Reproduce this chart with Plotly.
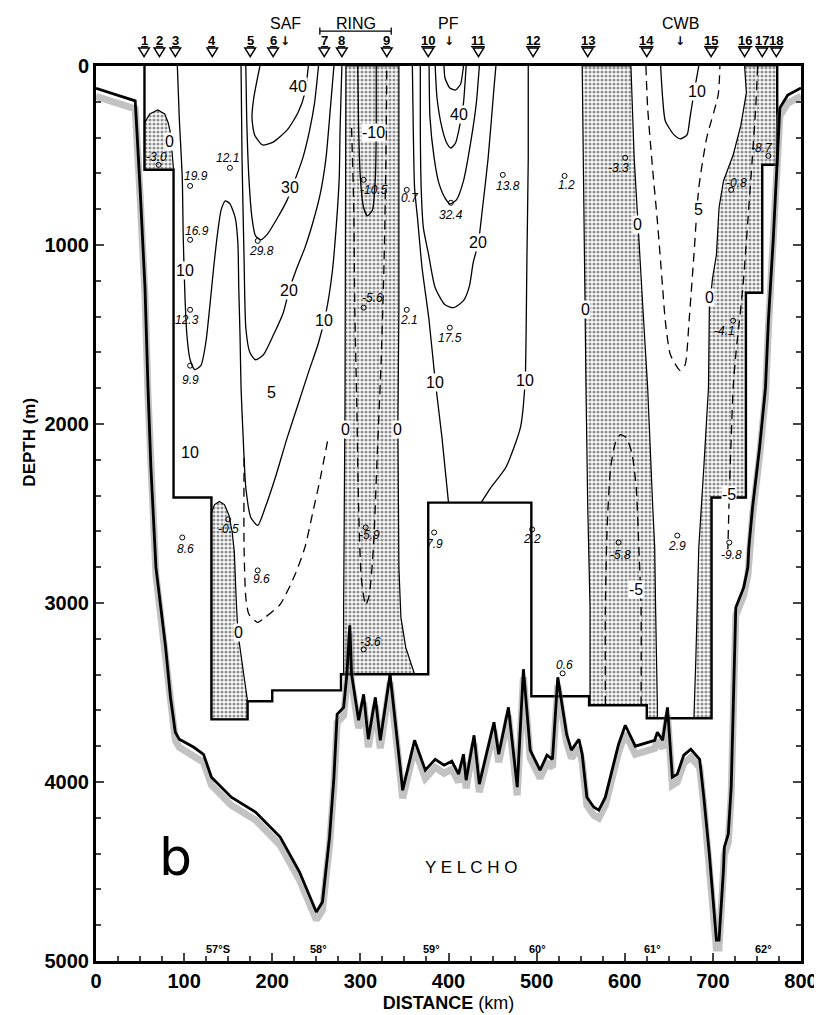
import plotly.graph_objects as go

# ---------------- data (km, m) ----------------
st_km = [54.5, 72, 90, 132, 175, 201, 259, 279, 330, 377, 434, 496, 558, 625, 698, 736, 756, 772]
st_names = [str(i) for i in range(1, 19)]
front_names = ["SAF", "PF", "CWB"]
front_km = [215, 400, 663]
ring_km = [254, 335]
lat_km = [139, 252, 381, 501, 632, 758]
lat_labels = ["57°S", "58°", "59°", "60°", "61°", "62°"]

topo_km = [0, 44.5, 50, 55.6, 59, 62.3, 68, 73.4, 79, 84.5, 90, 94.5, 111, 122, 131, 153.5, 181, 209, 231,
           250, 257, 265, 270, 273.6, 278, 281, 284.7, 288, 290, 298, 303.7, 309, 317, 322.6, 333.7, 348,
           361.5, 373.7, 384.9, 394.9, 403.8, 411.5, 417, 420, 429, 435, 451.6, 457, 468, 478, 485, 492.7,
           503.9, 511.7, 518, 524, 534, 539.5, 548, 551.7, 557, 565, 570.6, 578, 593, 600.6, 612, 634, 637,
           643, 648.5, 654, 659.6, 667, 675, 685, 689.7, 696, 704, 707, 712, 713, 717.5, 720.8, 726, 735,
           739.7, 740.8, 745, 753, 759.7, 763, 768.6, 774, 776, 785, 800]
topo_m = [125, 195, 681, 1239, 1797, 2243, 2801, 3025, 3248, 3527, 3722, 3761, 3806, 3845, 3973, 4085, 4168,
          4308, 4503, 4726, 4670, 4308, 3973, 3622, 3599, 3583, 3398, 3125, 3398, 3655, 3510, 3761, 3527,
          3767, 3398, 4046, 3767, 3934, 3873, 3906, 3884, 3956, 3845, 3990, 3739, 4012, 3666, 3845, 3583,
          4029, 3370, 3822, 3934, 3850, 3873, 3415, 3733, 3822, 3761, 3845, 4085, 4141, 4157, 4085, 3789,
          3683, 3800, 3767, 3722, 3767, 3583, 3973, 3956, 3850, 3817, 3873, 4085, 4403, 4883, 4883, 4492,
          4364, 4291, 4029, 3025, 2913, 2801, 2690, 2467, 2132, 1797, 1423, 960, 402, 234, 162, 123]

box_km = [55, 55, 88, 88, 131, 131, 172, 172, 200, 200, 278, 278, 377, 377, 494, 494, 559.5, 559.5,
          625, 625, 698.5, 698.5, 737.5, 737.5, 756, 756, 773, 773]
box_m = [0, 580, 580, 2411, 2411, 3650, 3650, 3549, 3549, 3488, 3488, 3398, 3398, 2439, 2439, 3521,
         3521, 3571, 3571, 3644, 3644, 2411, 2411, 1267, 1267, 552, 552, 0]

# negative-velocity (shaded) regions
neg1_km = [55, 55, 61, 70, 78, 82, 84.5, 85.6, 88]
neg1_m = [580, 318, 268, 246, 268, 318, 374, 458, 580]
neg2_km = [131, 131, 134.6, 140, 145.7, 151, 154.6, 157, 159, 161, 165.7, 170, 172, 172]
neg2_m = [3650, 2494, 2450, 2433, 2450, 2511, 2606, 2717, 2969, 3164, 3331, 3471, 3549, 3650]
neg3_km = [283.6, 343.7, 343.7, 342.6, 343.7, 346, 351.5, 361.5, 281, 281, 282.5, 283.6]
neg3_m = [0, 0, 1350, 2020, 2801, 3080, 3248, 3398, 3398, 3025, 1908, 792]
neg4_km = [551.7, 554, 555, 556, 558, 560.6, 560.6, 625, 625, 637, 637, 635, 634, 631.8, 626, 620.7, 615, 610.7, 607]
neg4_m = [0, 792, 1362, 1797, 2467, 3025, 3571, 3571, 3644, 3644, 3571, 3025, 2690, 2467, 1797, 1362, 904, 513, 0]
neg5_km = [736, 773, 773, 756, 756, 737.5, 737.5, 698.5, 698.5, 678.5, 680.7, 684, 689.7, 695, 696, 699.7,
           704, 707, 712, 723, 731.6, 738]
neg5_m = [0, 0, 552, 552, 1267, 1267, 2411, 2411, 3644, 3644, 3304, 2690, 2243, 1797, 1350, 1183, 1055,
          792, 642, 497, 335, 150]

# solid contours
saf10_km = [92.3, 94.5, 97.9, 99, 101, 103.4, 106.8, 112, 119, 124.6, 129, 133.5, 138, 142, 146.8, 152, 158,
            161, 162, 163.5, 164.6, 167, 170, 175.7, 183.5, 192, 203.5, 217, 230, 241, 252.5, 261, 268,
            272.5, 276, 277, 279]
saf10_m = [0, 290, 625, 960, 1295, 1518, 1641, 1696, 1674, 1546, 1350, 1127, 932, 804, 753, 770, 848, 988,
           1239, 1518, 1797, 2076, 2355, 2522, 2567, 2467, 2299, 2076, 1880, 1713, 1546, 1378, 1155, 904,
           625, 346, 0]
saf20_km = [164.6, 165.7, 168, 170, 174.6, 181, 190, 201, 212.5, 219, 228, 237, 246, 254.7, 261, 266, 270]
saf20_m = [0, 513, 1071, 1462, 1601, 1641, 1613, 1506, 1378, 1256, 1127, 1016, 876, 709, 513, 234, 0]
saf30_km = [170, 171, 173.5, 177, 181, 187, 194.7, 206, 217, 225.8, 234.7, 242.5, 248, 252.5]
saf30_m = [0, 290, 625, 848, 949, 971, 938, 848, 748, 636, 513, 357, 206, 0]
saf40_km = [186, 179, 177, 180, 189, 201, 217, 229, 237, 241]
saf40_m = [0, 179, 290, 385, 441, 425, 357, 263, 151, 0]
ring10_km = [297, 298, 300, 303.7, 308, 313.7, 317, 318, 318]
ring10_m = [0, 346, 625, 792, 837, 804, 625, 346, 0]
pf10l_km = [359, 360, 361.5, 364.8, 370, 378, 384.9, 392.6, 400]
pf10l_m = [0, 346, 681, 848, 1127, 1423, 1758, 2076, 2439]
pf20_km = [368, 368, 369, 371.5, 377, 384.9, 396, 406, 417, 423.8, 428, 433.8, 438, 445, 451.6, 453.8]
pf20_m = [0, 346, 681, 904, 1043, 1239, 1334, 1350, 1311, 1228, 1099, 988, 820, 513, 123, 0]
pf30_km = [378, 379, 383.7, 389, 396, 401.5, 409, 417, 426, 431.6, 435]
pf30_m = [0, 290, 513, 653, 737, 770, 748, 642, 402, 206, 0]
pf40_km = [384.9, 387, 392.6, 398, 402.7, 408, 412.7, 417, 420]
pf40_m = [0, 179, 346, 430, 458, 430, 335, 206, 0]
pf50_km = [394.9, 396, 401.5, 408, 413.8, 416, 417]
pf50_m = [0, 67, 123, 134, 100, 39, 0]
pf10r_km = [490.5, 490.5, 489, 488, 487, 481.6, 465, 448, 437]
pf10r_m = [0, 513, 1071, 1518, 1758, 2020, 2243, 2355, 2439]
cwb10_km = [640.7, 643, 646, 656, 663, 670.7, 674, 678.5, 684]
cwb10_m = [0, 179, 307, 385, 407, 385, 290, 151, 0]

# dashed contours
saf5_km = [168, 168, 170, 173.5, 183.5, 192, 209, 226, 237, 246, 254.7, 263.5]
saf5_m = [2188, 2690, 2969, 3063, 3108, 3080, 3008, 2840, 2690, 2494, 2299, 2076]
ringm5_km = [290, 292.5, 293.6, 296, 298, 301, 306, 310, 314.8, 319, 323.7, 327, 329, 330]
ringm5_m = [346, 792, 1350, 1908, 2467, 2857, 3013, 2957, 2690, 2188, 1629, 1071, 513, 0]
cwb5_km = [624, 626, 631.8, 637, 643, 646, 651.8, 663, 668.5, 673, 678.5, 684, 693, 706, 708]
cwb5_m = [0, 234, 585, 865, 1239, 1423, 1613, 1702, 1669, 1423, 1055, 681, 402, 162, 0]
s13m5_km = [578, 578, 580, 584, 589.5, 595, 601.6, 608, 613, 616, 618.5, 618.5]
s13m5_m = [3571, 3025, 2578, 2243, 2104, 2059, 2076, 2160, 2355, 2690, 3025, 3571]
s16m5_km = [750.8, 748.6, 745, 739.7, 734, 726, 723, 720.8, 718.6, 717]
s16m5_m = [0, 234, 497, 865, 1239, 1613, 1797, 2076, 2394, 2700]

# contour labels
clab_txt = ["0", "10", "30", "40", "20", "10", "5", "10", "0", "-10", "0", "0", "40", "20", "10", "10",
            "0", "0", "-5", "5", "10", "0", "-5"]
clab_km = [83.4, 101, 220, 229, 219, 259, 199, 107, 162, 314.8, 283.6, 342.6, 411.5, 433.8, 384.9, 487,
           555, 615, 613, 684, 682, 696, 718.6]
clab_m = [419, 1144, 681, 112, 1256, 1423, 1825, 2160, 3164, 374, 2031, 2031, 273, 988, 1769, 1758,
          1362, 887, 2924, 804, 140, 1295, 2394]

# station mean values (dot position)
val_txt = ["-3.0", "19.9", "16.9", "12.3", "9.9", "12.1", "29.8", "8.6", "-0.5", "9.6", "-10.5", "-5.6",
           "-5.9", "-3.6", "0.7", "2.1", "32.4", "17.5", "13.8", "7.9", "1.2", "2.2", "0.6", "-3.3",
           "-5.8", "2.9", "-0.8", "-8.7", "-4.1", "-9.8"]
val_km = [71, 106.8, 106.8, 106.8, 106.8, 152, 183.5, 97.9, 150, 183.5, 303.7, 303.7, 306, 303.7, 352.6,
          352.6, 402.7, 401.5, 461.6, 383.7, 531.7, 494.9, 529.5, 600.6, 593, 659.6, 720.8, 763, 723, 718.6]
val_m = [552, 670, 971, 1362, 1674, 569, 977, 2634, 2533, 2818, 636, 1350, 2578, 3259, 692, 1362, 764,
         1462, 608, 2606, 614, 2589, 3393, 513, 2662, 2623, 692, 502, 1423, 2662]
val_dx = [-2, 6, 7, -3, 0, -2, 4, 3, 0, 4, 10, 9, 4, 7, 3, 2, 0, 0, 5, 0, 2, 0, 2, -7, 2, 0, 5, -6, -9, 2]
val_dy = [8, 10, 9, -10, -14, 10, -10, -12, -10, -9, -10, 10, -8, 7, -8, -10, -12, -10, -11, -12, -9,
          -10, 8, -10, -12, -10, 7, 8, -10, -12]

# ---------------- figure ----------------
fig = go.Figure()
FONT = "Liberation Sans, Arial, sans-serif"
pattern = dict(shape=".", fgcolor="#222222", bgcolor="#ffffff", size=4, solidity=0.5)

for kx, my in [(neg1_km, neg1_m), (neg2_km, neg2_m), (neg3_km, neg3_m), (neg4_km, neg4_m), (neg5_km, neg5_m)]:
    fig.add_trace(go.Scatter(x=kx + [kx[0]], y=my + [my[0]], mode="lines", fill="toself",
                             fillcolor="#b5b5b5", fillpattern=pattern,
                             line=dict(color="black", width=1.2), hoverinfo="skip"))

for kx, my in [(saf10_km, saf10_m), (saf20_km, saf20_m), (saf30_km, saf30_m), (saf40_km, saf40_m),
               (ring10_km, ring10_m), (pf10l_km, pf10l_m), (pf20_km, pf20_m), (pf30_km, pf30_m),
               (pf40_km, pf40_m), (pf50_km, pf50_m), (pf10r_km, pf10r_m), (cwb10_km, cwb10_m)]:
    fig.add_trace(go.Scatter(x=kx, y=my, mode="lines", line=dict(color="black", width=1.3, shape="spline",
                                                                    smoothing=0.6), hoverinfo="skip"))

for kx, my in [(saf5_km, saf5_m), (ringm5_km, ringm5_m), (cwb5_km, cwb5_m), (s13m5_km, s13m5_m),
               (s16m5_km, s16m5_m)]:
    fig.add_trace(go.Scatter(x=kx, y=my, mode="lines",
                             line=dict(color="black", width=1.3, dash="9px,6px", shape="spline", smoothing=0.6),
                             hoverinfo="skip"))

fig.add_trace(go.Scatter(x=box_km, y=box_m, mode="lines", line=dict(color="black", width=2.4), hoverinfo="skip"))

fig.add_trace(go.Scatter(x=topo_km, y=[d + 45 for d in topo_m], mode="lines",
                         line=dict(color="rgba(120,120,120,0.45)", width=7), hoverinfo="skip"))
fig.add_trace(go.Scatter(x=topo_km, y=topo_m, mode="lines", line=dict(color="black", width=2.8),
                         hoverinfo="skip"))

fig.add_trace(go.Scatter(x=val_km, y=val_m, mode="markers",
                         marker=dict(symbol="circle-open", size=5, color="black", line=dict(width=1)),
                         hoverinfo="skip"))

ann = []
shapes = []
TRI_Y0, TRI_Y1 = 1.0200, 1.0105   # paper y of triangle top / tip
for t, x in zip(st_names, st_km):
    ann.append(dict(x=x, y=1.028, xref="x", yref="paper", text="<b><u>%s</u></b>" % t, showarrow=False,
                    yanchor="middle", font=dict(family=FONT, size=13, color="black")))
    shapes.append(dict(type="path", xref="x", yref="paper",
                       path="M %.2f,%.4f L %.2f,%.4f L %.2f,%.4f Z" % (x - 6, TRI_Y0, x + 6, TRI_Y0, x, TRI_Y1),
                       line=dict(color="black", width=1.5), fillcolor="white"))
for t, x in zip(front_names, front_km):
    ann.append(dict(x=x, y=1.047, xref="x", yref="paper", text=t, showarrow=False, yanchor="middle",
                    font=dict(family=FONT, size=16, color="black")))
    ann.append(dict(x=x, y=1.028, xref="x", yref="paper", text="<b>↓</b>", showarrow=False, yanchor="middle",
                    font=dict(family="DejaVu Sans, sans-serif", size=12, color="black")))
ann.append(dict(x=(ring_km[0] + ring_km[1]) / 2, y=1.047, xref="x", yref="paper", text="RING",
                showarrow=False, yanchor="middle", font=dict(family=FONT, size=16, color="black")))
for t, x in zip(lat_labels, lat_km):
    ann.append(dict(x=x, y=4935, xref="x", yref="y", text="<b>%s</b>" % t, showarrow=False,
                    font=dict(family=FONT, size=11, color="black")))
for t, x, y in zip(clab_txt, clab_km, clab_m):
    ann.append(dict(x=x, y=y, xref="x", yref="y", text=t, showarrow=False, bgcolor="white",
                    borderpad=0, font=dict(family=FONT, size=16, color="black")))
for t, x, y, dx, dy in zip(val_txt, val_km, val_m, val_dx, val_dy):
    ann.append(dict(x=x, y=y, xref="x", yref="y", text="<i>%s</i>" % t, showarrow=False,
                    xshift=dx, yshift=dy, font=dict(family=FONT, size=12, color="black")))
ann.append(dict(x=90, y=4420, xref="x", yref="y", text="b", showarrow=False,
                font=dict(family="DejaVu Sans, sans-serif", size=52, color="black")))
ann.append(dict(x=426, y=4480, xref="x", yref="y", text="Y E L C H O", showarrow=False,
                font=dict(family=FONT, size=17, color="black")))
ann.append(dict(x=-0.094, y=0.58, xref="paper", yref="paper", xanchor="center", yanchor="middle",
                text="<b>DEPTH (m)</b>", textangle=-90,
                showarrow=False, font=dict(family=FONT, size=17, color="black")))

shapes += [
    dict(type="line", xref="x", yref="paper", x0=ring_km[0], x1=ring_km[1], y0=1.039, y1=1.039,
         line=dict(color="black", width=1.3)),
    dict(type="line", xref="x", yref="paper", x0=ring_km[0], x1=ring_km[0], y0=1.035, y1=1.043,
         line=dict(color="black", width=1.3)),
    dict(type="line", xref="x", yref="paper", x0=ring_km[1], x1=ring_km[1], y0=1.035, y1=1.043,
         line=dict(color="black", width=1.3)),
]

fig.update_layout(
    width=822, height=1015, margin=dict(l=88, r=16, t=58, b=61),
    plot_bgcolor="white", paper_bgcolor="white", showlegend=False,
    annotations=ann, shapes=shapes,
    font=dict(family=FONT, color="black"),
)
fig.update_xaxes(range=[0, 800], tick0=0, dtick=100, ticks="inside", ticklen=8, tickwidth=2,
                 showline=True, linewidth=3, linecolor="black", mirror=True, showgrid=False, zeroline=False,
                 ticklabeloverflow="allow",
                 tickfont=dict(family=FONT, size=20, color="black"), tickprefix="<b>", ticksuffix="</b>",
                 minor=dict(dtick=25, ticks="inside", ticklen=5, tickwidth=1.5, showgrid=False),
                 title=dict(text="<b>DISTANCE</b> (km)", font=dict(family=FONT, size=18, color="black"),
                            standoff=6))
fig.update_yaxes(range=[5000, 0], tick0=0, dtick=1000, ticks="inside", ticklen=8, tickwidth=2,
                 showline=True, linewidth=3, linecolor="black", mirror="ticks", showgrid=False, zeroline=False,
                 tickfont=dict(family=FONT, size=20, color="black"), tickprefix="<b>", ticksuffix="</b>",
                 minor=dict(dtick=200, ticks="inside", ticklen=5, tickwidth=1.5, showgrid=False))

fig.write_html("out.html")
